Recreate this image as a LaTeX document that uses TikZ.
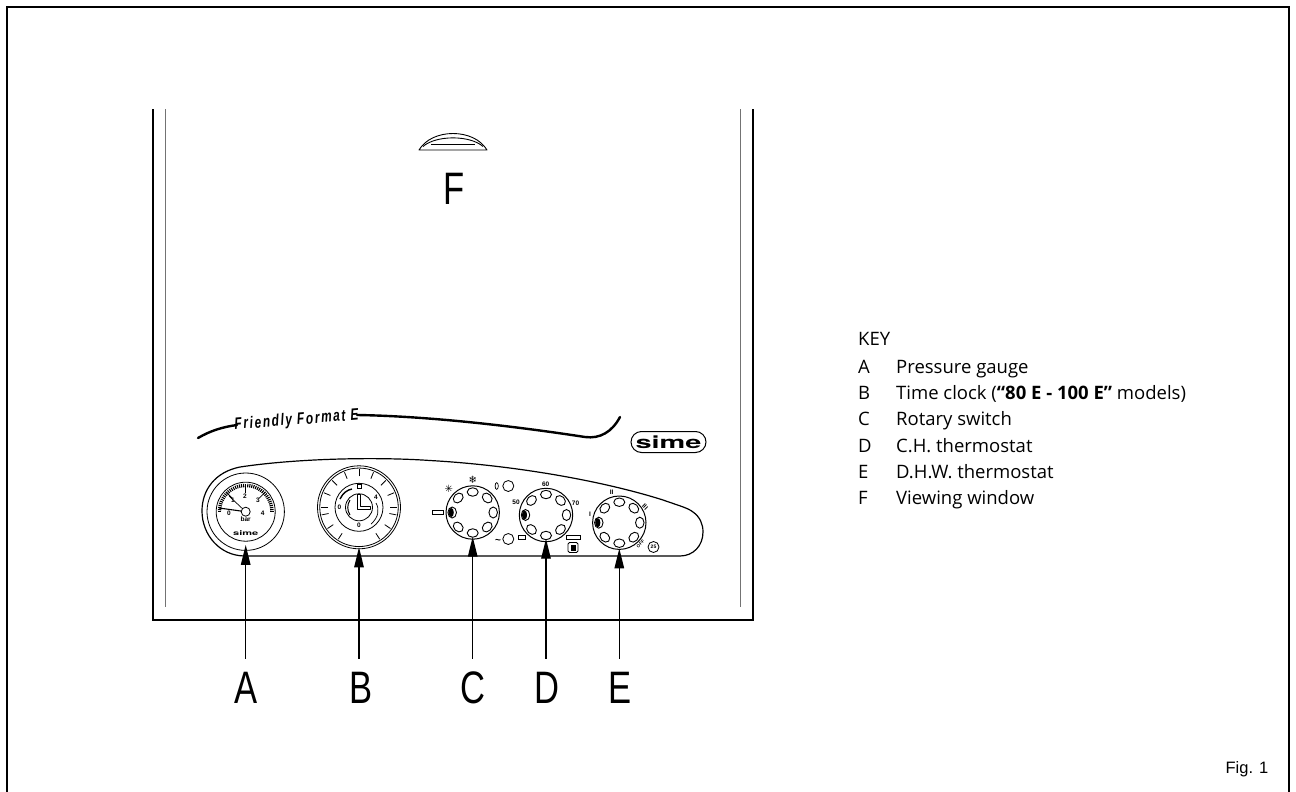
\documentclass[tikz,border=0pt]{standalone}
\usepackage{fontspec}
\setmainfont{Open Sans}
\newfontfamily\calloutfont[FakeStretch=0.76]{Liberation Sans}
\newfontfamily\figfont{Liberation Sans}
\newfontfamily\brandfont[FakeStretch=1.7]{TeX Gyre Heros}
\newfontfamily\formatfont[FakeStretch=0.72,LetterSpace=10]{Liberation Sans}
\newfontfamily\symbolfont{DejaVu Sans}
\usetikzlibrary{arrows.meta, calc, shapes.geometric, shapes.misc}
\tikzset{
  wall/.style={line width=2pt},
  liner/.style={line width=1pt, black!55},
  panel/.style={line width=1.2pt},
  swoosh/.style={line width=2.4pt, line cap=round},
  ring/.style={draw, circle, inner sep=0pt, outer sep=0pt, line width=0.8pt},
  dial/.style={ring, minimum size=53.4pt, line width=1pt},
  hole/.style={draw, ellipse, inner sep=0pt, outer sep=0pt, minimum width=11pt, minimum height=8.5pt, line width=0.9pt},
  lamp/.style={ring, minimum size=11pt},
  slot/.style={draw, rectangle, inner sep=0pt, outer sep=0pt, line width=0.8pt},
  tiny/.style={inner sep=0pt, font=\fontsize{6.5}{7}\bfseries\figfont},
  callout/.style={inner xsep=0pt, inner ysep=12pt, outer sep=0pt, text height=32.5pt, text depth=0pt, font=\fontsize{45.5}{50}\selectfont\calloutfont},
  pointer/.style={-{Stealth[length=20pt, width=9.5pt, inset=0pt]}, line width=1.3pt},
  keyitem/.style={anchor=base west, inner sep=0pt, font=\fontsize{18.5}{22}\selectfont},
}
\begin{document}
\begin{tikzpicture}[x=1pt, y=-1pt]
    \useasboundingbox (0,0) rectangle (1296,792);

    % Outer frame, open at the bottom
    \draw[line width=1.5pt] (7,792) -- (7,7) -- (1289,7) -- (1289,792);

    % Boiler casing
    \draw[wall] (152.5,109) -- (152.5,620) -- (752.5,620) -- (752.5,109);
    \draw[liner] (165,109) -- (165,607);
    \draw[liner] (740.5,109) -- (740.5,607);

    % Viewing window
    \draw[line width=0.9pt, line join=round] (419,150) .. controls (432,128) and (474,128) .. (487,150) -- cycle;
    \draw[line width=0.9pt] (423,146.5) .. controls (436,135) and (470,135) .. (483,146.5);
    \draw[line width=0.9pt] (431,144) -- (475,144);
    \node[callout, inner ysep=0pt] (labelf) at (454,188) {F};

    % Friendly Format E band
    \draw[swoosh] (198,438) .. controls (210,431) and (222,427) .. (237,425);
    \draw[swoosh] (357,415) .. controls (420,416) and (500,424) .. (585,437) .. controls (600,439) and (612,432) .. (620,417);
    \node[rotate=4.5, inner sep=0pt, font=\fontsize{16.5}{17}\bfseries\itshape\formatfont] (format) at (296.5,420.5) {Friendly Format E};

    % Brand plate
    \node[draw, rounded rectangle, line width=1pt, inner sep=0pt, minimum width=75pt, minimum height=21pt, font=\fontsize{17}{18}\bfseries\brandfont] (plate) at (668.5,442) {sime};

    % Control panel outline
    \draw[panel] (680,556) -- (245,556) .. controls (220,556) and (202,535) .. (202,511)
      .. controls (202,490) and (215,472) .. (240,467) .. controls (300,458) and (380,457) .. (430,460.5)
      .. controls (510,465) and (600,480) .. (663,500) .. controls (680,506) and (688,508) .. (693,512)
      .. controls (700,517) and (703,524) .. (703,532) .. controls (703,546) and (693,556) .. (680,556) -- cycle;

    % Pressure gauge
    \node[ring, minimum size=77.4pt] (gauge) at (245.7,511.7) {};
    \node[ring, minimum size=59pt] (gaugeface) at (245.7,511.7) {};
    \foreach \a in {-180,-175.5,...,0} {
      \draw[line width=1.1pt] ($(gauge)+(\a:24.5)$) -- ($(gauge)+(\a:28)$);
    }
    \foreach \a in {-135,-90,-45} {
      \draw[line width=0.8pt] ($(gauge)+(\a:19)$) -- ($(gauge)+(\a:28)$);
    }
    \node[ring, minimum size=9pt, fill=white] (pivot) at (245.7,511.7) {};
    \draw[line width=1.1pt] (pivot) -- (219,508);
    \draw[line width=0.7pt] (pivot) -- (229,496);
    \foreach \t/\px/\py in {0/229/513,1/233/500,2/245/496,3/258/500.7,4/262.7/513,bar/245.7/519} {
      \node[tiny] at (\px,\py) {\t};
    }
    \node[tiny, font=\fontsize{6.5}{7}\bfseries\brandfont] (gaugebrand) at (245.7,533) {sime};

    % Time clock
    \node[ring, minimum size=83pt] (clock) at (359,507.3) {};
    \node[ring, minimum size=78.5pt] (clockrim) at (359,507.3) {};
    \node[ring, minimum size=48pt] (clockmid) at (359,507.3) {};
    \node[ring, minimum size=27pt] (clockhub) at (359,507.3) {};
    \foreach \a in {-180,-157.5,...,0} {
      \draw[line width=0.8pt] ($(clock)+(\a:31)$) -- ($(clock)+(\a:38)$);
    }
    \foreach \a in {11.5,34,57,123,146,168.5} {
      \draw[line width=0.8pt] ($(clock)+(\a:31)$) -- ($(clock)+(\a:38)$);
    }
    \draw[line width=0.8pt, line join=round] (357.5,494) -- (360.5,494) -- (360.5,506.5) -- (370,506.5) -- (370,509.5) -- (357.5,509.5) -- cycle;
    \draw[line width=1pt] (350,500) .. controls (347,505) and (347,510) .. (350,515);
    \draw[line width=1.4pt] (340,499) .. controls (343,493) and (347,490) .. (352,489);
    \draw[line width=0.7pt] (376,503) .. controls (380,510) and (378,518) .. (371,524);
    \node[slot, minimum width=4pt, minimum height=4pt] (clocksquare) at (359,486.5) {};
    \node[tiny] at (339.5,507) {0};
    \node[tiny] at (359,525) {0};
    \node[tiny] at (376,497) {4};

    % Three dials with eight recesses each
    \node[dial] (dialc) at (472.7,512.5) {};
    \node[dial] (diald) at (546,515) {};
    \node[dial] (diale) at (619.3,522.7) {};
    \foreach \nm in {dialc,diald,diale} {
      \foreach \a in {-135,-90,-45,0,45,90,135,180} {
        \node[hole, rotate=90-\a] at ($(\nm)+(\a:20.5)$) {};
      }
      \fill ($(\nm)+(-21.5,0)$) ellipse [x radius=2.6, y radius=4.6];
    }

    % Rotary switch marks
    \node[slot, minimum width=11pt, minimum height=4.5pt] (slotc) at (438.3,512.3) {};
    \node[lamp] (lamptop) at (508.3,486) {};
    \node[lamp] (lampbot) at (508.3,539) {};
    \node[inner sep=0pt, font=\fontsize{10}{10}\symbolfont] (sun) at (448.7,489) {✳};
    \node[inner sep=0pt, font=\fontsize{10}{10}\symbolfont] (snow) at (472.7,480) {❄};
    \draw[line width=0.7pt] (496.7,486) ellipse [x radius=1.6, y radius=3.4];
    \node[tiny, font=\fontsize{10}{10}\bfseries\figfont] (wave) at (498,541) {\textasciitilde};

    % C.H. thermostat marks
    \node[tiny] at (545.7,484) {60};
    \node[tiny] at (516,502) {50};
    \node[tiny] at (575.5,503) {70};
    \node[slot, minimum width=7pt, minimum height=4pt] (slotd) at (522,537.3) {};
    \node[slot, minimum width=14pt, minimum height=4pt] (slotdd) at (573,537.3) {};
    \node[draw, rounded corners=1.5pt, line width=0.8pt, minimum size=10pt, inner sep=0pt] (tap) at (573,547.5) {};
    \fill (570.5,545) rectangle (575.5,550.5);

    % D.H.W. thermostat marks
    \node[tiny] at (590,514) {I};
    \node[tiny] at (611.7,492) {II};
    \node[tiny, rotate=-45] at (645,507) {III};
    \node[tiny, rotate=45, font=\fontsize{4.5}{5}\bfseries\figfont] at (640.5,544) {OFF};
    \node[ring, minimum size=11pt] (faucet) at (653.5,547) {};
    \node[tiny, font=\fontsize{5}{5}\bfseries\figfont] at (653.5,547) {25};

    % Callout letters and arrows
    \foreach \nm/\l/\px in {a/A/245.7,b/B/361,c/C/472.7,d/D/546.7,e/E/620.5} {
      \node[callout] (label\nm) at (\px,687) {\l};
    }
    \foreach \nm/\tgt/\gap in {a/gauge/-5.5,b/clock/-1.5,c/dialc/-2.5,d/diald/-3,e/diale/-1} {
      \draw[pointer, shorten >=\gap pt] (\tgt.south |- label\nm.north) -- (\tgt.south);
    }

    % Key
    \node[keyitem] (keytitle) at (858,345.5) {KEY};
    \foreach \l/\t/\py in {A/Pressure gauge/373.5,B/{Time clock (\textbf{“80 E - 100 E”} models)}/399.5,C/Rotary switch/425.5,D/C.H. thermostat/452.5,E/D.H.W. thermostat/478.5,F/Viewing window/504.5} {
      \node[keyitem] (key\l) at (858,\py) {\l};
      \node[keyitem] (text\l) at (896,\py) {\t};
    }
    \node[inner sep=0pt, font=\fontsize{16.5}{20}\selectfont\figfont] (figno) at (1247,769) {Fig. 1};
\end{tikzpicture}
\end{document}
